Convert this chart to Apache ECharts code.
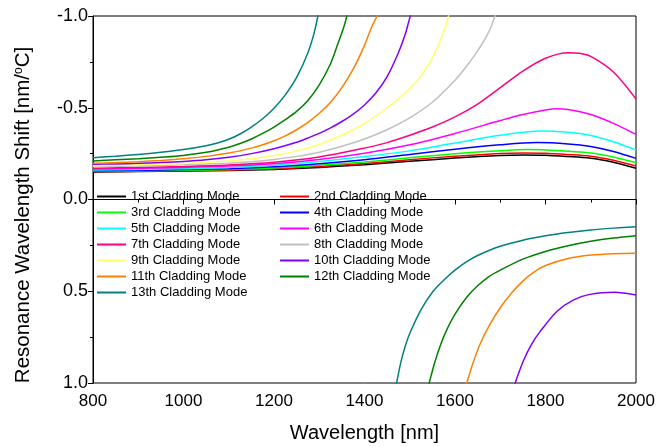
<!DOCTYPE html>
<html>
<head>
<meta charset="utf-8">
<script src="https://cdn.jsdelivr.net/npm/echarts@6/dist/echarts.min.js"></script>
<style>html,body{margin:0;padding:0;background:#fff}#c{width:669px;height:447px}</style>
</head>
<body>
<div id="c"></div>
<script>
const xTicks = [800, 1000, 1200, 1400, 1600, 1800, 2000];
const yTicks = [-1.0, -0.5, 0.0, 0.5, 1.0];
const modeNames = ['1st Cladding Mode','2nd Cladding Mode','3rd Cladding Mode','4th Cladding Mode','5th Cladding Mode','6th Cladding Mode','7th Cladding Mode','8th Cladding Mode','9th Cladding Mode','10th Cladding Mode','11th Cladding Mode','12th Cladding Mode','13th Cladding Mode'];
const modeColors = ['#000000','#ff0000','#00ff00','#0000ff','#00ffff','#ff00ff','#ff0080','#c0c0c0','#ffff66','#8000ff','#ff8000','#008000','#008080'];

const m1W = [800,900,1000,1100,1200,1300,1400,1500,1600,1700,1750,1800,1900,1950,2000];
const m1V = [-0.150,-0.152,-0.155,-0.158,-0.164,-0.175,-0.190,-0.208,-0.226,-0.240,-0.243,-0.241,-0.225,-0.203,-0.170];
const m2W = [800,900,1000,1100,1200,1300,1400,1500,1600,1700,1750,1800,1900,1950,2000];
const m2V = [-0.152,-0.154,-0.157,-0.160,-0.167,-0.180,-0.196,-0.217,-0.236,-0.251,-0.254,-0.252,-0.236,-0.214,-0.183];
const m3W = [800,900,1000,1100,1200,1300,1400,1500,1600,1700,1760,1800,1900,1950,2000];
const m3V = [-0.154,-0.156,-0.159,-0.163,-0.171,-0.186,-0.204,-0.227,-0.249,-0.265,-0.272,-0.270,-0.254,-0.232,-0.200];
const m4W = [800,900,1000,1100,1200,1300,1400,1500,1600,1700,1780,1850,1900,1950,2000];
const m4V = [-0.157,-0.159,-0.163,-0.168,-0.178,-0.195,-0.217,-0.245,-0.274,-0.298,-0.310,-0.303,-0.289,-0.262,-0.224];
const m5W = [800,900,1000,1100,1200,1300,1400,1500,1600,1700,1790,1850,1900,1950,2000];
const m5V = [-0.161,-0.164,-0.168,-0.174,-0.187,-0.207,-0.234,-0.265,-0.308,-0.350,-0.373,-0.366,-0.349,-0.315,-0.270];
const m6W = [800,900,1000,1100,1200,1300,1400,1500,1600,1700,1750,1800,1825,1850,1900,1950,2000];
const m6V = [-0.166,-0.170,-0.175,-0.182,-0.195,-0.218,-0.252,-0.298,-0.360,-0.430,-0.463,-0.488,-0.495,-0.490,-0.463,-0.415,-0.355];
const m7W = [800,900,1000,1100,1200,1300,1400,1450,1500,1550,1600,1650,1700,1750,1800,1850,1875,1900,1950,2000];
const m7V = [-0.170,-0.175,-0.180,-0.188,-0.203,-0.232,-0.280,-0.310,-0.350,-0.395,-0.450,-0.520,-0.610,-0.700,-0.770,-0.800,-0.797,-0.780,-0.695,-0.548];
const m8W = [800,900,1000,1100,1150,1200,1250,1300,1350,1400,1450,1500,1550,1600,1625,1650,1675,1690,1700];
const m8V = [-0.179,-0.183,-0.189,-0.198,-0.206,-0.218,-0.235,-0.258,-0.290,-0.330,-0.380,-0.445,-0.530,-0.650,-0.725,-0.810,-0.915,-1.010,-1.070];
const m9W = [800,900,1000,1100,1150,1200,1250,1300,1350,1375,1400,1425,1450,1475,1500,1525,1550,1575,1590];
const m9V = [-0.184,-0.189,-0.196,-0.210,-0.222,-0.240,-0.265,-0.300,-0.350,-0.380,-0.415,-0.455,-0.500,-0.550,-0.605,-0.675,-0.770,-0.915,-1.040];
const m10W = [800,850,900,950,1000,1050,1100,1150,1200,1250,1275,1300,1325,1350,1375,1400,1425,1450,1475,1490,1500,1510];
const m10V = [-0.192,-0.194,-0.197,-0.201,-0.207,-0.216,-0.230,-0.250,-0.277,-0.312,-0.335,-0.360,-0.390,-0.425,-0.465,-0.515,-0.580,-0.670,-0.800,-0.900,-0.990,-1.080];
const m10bW = [1730,1733,1751,1770,1788,1825,1861,1898,1953,2000];
const m10bV = [1.030,1.000,0.880,0.785,0.720,0.610,0.548,0.517,0.506,0.520];
const m11W = [800,850,900,950,1000,1050,1100,1150,1175,1200,1225,1250,1275,1300,1325,1350,1375,1400,1415,1430];
const m11V = [-0.197,-0.201,-0.206,-0.213,-0.222,-0.235,-0.253,-0.280,-0.298,-0.320,-0.347,-0.380,-0.420,-0.470,-0.530,-0.610,-0.710,-0.840,-0.935,-1.010];
const m11bW = [1622,1626,1640,1655,1675,1700,1725,1750,1775,1800,1850,1900,1950,2000];
const m11bV = [1.030,1.000,0.890,0.790,0.690,0.590,0.510,0.445,0.395,0.360,0.322,0.303,0.295,0.293];
const m12W = [800,850,900,950,1000,1050,1100,1125,1150,1175,1200,1225,1250,1275,1300,1325,1340,1355,1365];
const m12V = [-0.210,-0.216,-0.222,-0.230,-0.240,-0.257,-0.285,-0.305,-0.330,-0.360,-0.395,-0.435,-0.480,-0.540,-0.625,-0.740,-0.840,-0.945,-1.040];
const m12bW = [1540,1543,1555,1567,1580,1600,1625,1650,1675,1700,1750,1800,1850,1900,1950,2000];
const m12bV = [1.030,1.000,0.890,0.800,0.720,0.625,0.535,0.470,0.420,0.385,0.325,0.283,0.252,0.228,0.210,0.197];
const m13W = [800,850,900,950,1000,1050,1075,1100,1125,1150,1175,1200,1225,1250,1275,1290,1300];
const m13V = [-0.228,-0.236,-0.245,-0.257,-0.272,-0.293,-0.308,-0.328,-0.357,-0.395,-0.440,-0.497,-0.570,-0.665,-0.800,-0.920,-1.040];
const m13bW = [1468,1471,1480,1490,1500,1525,1550,1575,1600,1625,1650,1700,1750,1800,1850,1900,1950,2000];
const m13bV = [1.040,1.000,0.890,0.800,0.730,0.600,0.505,0.440,0.385,0.340,0.305,0.255,0.222,0.198,0.180,0.166,0.156,0.148];

const curves = [
  [0, m1W, m1V], [1, m2W, m2V], [2, m3W, m3V], [3, m4W, m4V], [4, m5W, m5V],
  [5, m6W, m6V], [6, m7W, m7V], [7, m8W, m8V], [8, m9W, m9V], [9, m10W, m10V],
  [10, m11W, m11V], [11, m12W, m12V], [12, m13W, m13V],
  [9, m10bW, m10bV], [10, m11bW, m11bV], [11, m12bW, m12bV], [12, m13bW, m13bV]
];

const FONT = 'Liberation Sans, Arial, sans-serif';
const series = curves.map(([k, W, V]) => ({
  name: modeNames[k],
  type: 'line',
  data: W.map((w, i) => [w, V[i]]),
  symbol: 'none',
  showSymbol: false,
  smooth: 0.3,
  clip: true,
  color: modeColors[k],
  lineStyle: { width: 1.5, color: modeColors[k] },
  emphasis: { disabled: true },
  silent: true
}));

const legendCommon = {
  orient: 'vertical', top: 190, padding: 0,
  itemWidth: 29, itemHeight: 2, itemGap: 3,
  selectedMode: false,
  textStyle: { fontFamily: FONT, fontSize: 13, color: '#000' }
};

const chart = echarts.init(document.getElementById('c'), null, { renderer: 'canvas' });
chart.setOption({
  animation: false,
  backgroundColor: '#fff',
  grid: { left: 93, right: 33, top: 16, bottom: 64, show: true, borderColor: '#000', borderWidth: 1, outerBoundsMode: 'none' },
  legend: [
    Object.assign({ left: 97, data: modeNames.filter((n, i) => i % 2 === 0).map(n => ({ name: n, icon: 'rect' })) }, legendCommon),
    Object.assign({ left: 280, data: modeNames.filter((n, i) => i % 2 === 1).map(n => ({ name: n, icon: 'rect' })) }, legendCommon)
  ],
  graphic: [{
    type: 'text', x: 23, y: 215, rotation: Math.PI / 2, silent: true,
    style: {
      text: 'Resonance Wavelength Shift [nm/{s|o}C]',
      fontFamily: FONT, fontSize: 20.5, fill: '#000', align: 'center', verticalAlign: 'middle',
      rich: { s: { fontFamily: FONT, fontSize: 12, fill: '#000', verticalAlign: 'top', lineHeight: 20 } }
    }
  }],
  xAxis: {
    type: 'value', min: 800, max: 2000, interval: 200,
    name: 'Wavelength [nm]', nameLocation: 'middle', nameGap: 40,
    nameTextStyle: { fontFamily: FONT, fontSize: 20, color: '#000' },
    axisLine: { show: true, lineStyle: { color: '#000', width: 1 } },
    axisTick: { show: true, inside: false, length: 5, lineStyle: { color: '#000' } },
    minorTick: { show: true, splitNumber: 2, length: 3, lineStyle: { color: '#000' } },
    axisLabel: { fontFamily: FONT, fontSize: 17, color: '#000', margin: 10,
      formatter: v => xTicks.includes(v) ? String(v) : '' },
    splitLine: { show: false }
  },
  yAxis: {
    type: 'value', min: -1, max: 1, interval: 0.5, inverse: true,
    axisLine: { show: true, onZero: false, lineStyle: { color: '#000', width: 1 } },
    axisTick: { show: true, inside: false, length: 5, lineStyle: { color: '#000' } },
    minorTick: { show: true, splitNumber: 2, length: 3, lineStyle: { color: '#000' } },
    axisLabel: { fontFamily: FONT, fontSize: 18, color: '#000', margin: 5,
      formatter: v => yTicks.includes(v) ? v.toFixed(1) : '' },
    splitLine: { show: false }
  },
  series: series
});
</script>
</body>
</html>
